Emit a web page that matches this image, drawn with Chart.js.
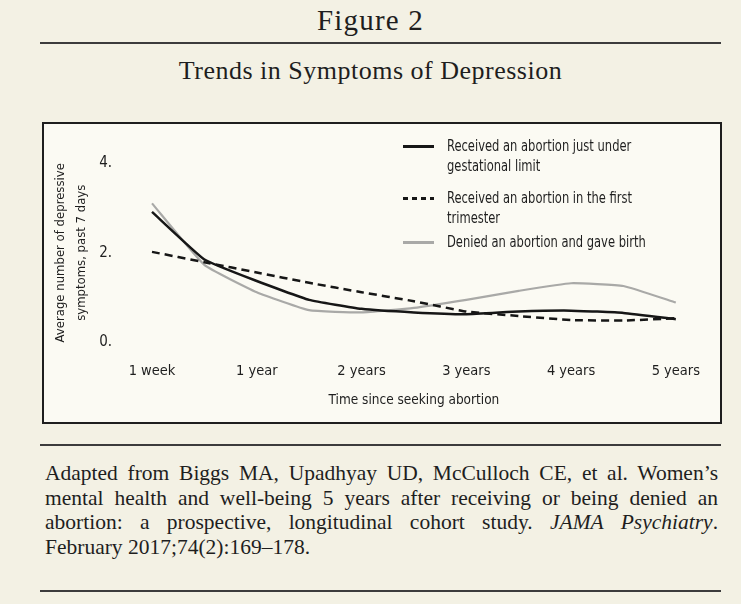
<!DOCTYPE html>
<html>
<head>
<meta charset="utf-8">
<script src="https://cdn.jsdelivr.net/npm/chart.js@4.4.1/dist/chart.umd.min.js"></script>
<style>
  body { margin: 0; width: 741px; height: 604px; position: relative; overflow: hidden;
         background: #f3f1e4; color: #1e1e1e; font-family: "Liberation Serif", "DejaVu Serif", serif; }
  .head { position: absolute; left: 0; width: 741px; text-align: center; line-height: 1; white-space: nowrap; }
  #figno { top: 6px; font-size: 29px; letter-spacing: 1.2px; }
  #title { top: 58px; font-size: 26px; letter-spacing: 0.5px; }
  .rule { position: absolute; left: 40px; width: 681px; height: 2px; background: #3c3c3c; }
  #box { position: absolute; left: 42px; top: 122px; width: 676px; height: 298px;
         border: 2px solid #1e1e1e; background: #fbfaf3; }
  #box canvas { position: absolute; left: 0; top: 0; }
  .cond { font-family: "Liberation Sans Narrow", "DejaVu Sans Condensed", sans-serif; font-stretch: condensed; }
  .item { position: absolute; left: 359px; width: 300px; font-size: 16px; line-height: 20px; }
  .item .swatch { position: absolute; left: 0; top: 9px; width: 31px; height: 2.5px; }
  .item .txt { position: absolute; left: 44px; top: 0; width: 262px;
               transform: scaleX(0.8); transform-origin: 0 0; }
  #caption { position: absolute; left: 45px; top: 461px; width: 673px; font-size: 21.5px; line-height: 24.5px; }
  #caption div { text-align: justify; text-align-last: justify; white-space: nowrap; }
  #caption div.last { text-align-last: left; }
</style>
</head>
<body>
<div class="head" id="figno">Figure 2</div>
<div class="rule" style="top:42px"></div>
<div class="head" id="title">Trends in Symptoms of Depression</div>

<div id="box">
  <canvas id="chart" width="676" height="298"></canvas>
  <div id="legend" class="cond"></div>
</div>

<div class="rule" style="top:444px"></div>
<div id="caption">
  <div>Adapted from Biggs MA, Upadhyay UD, McCulloch CE, et al. Women’s</div>
  <div>mental health and well-being 5 years after receiving or being denied an</div>
  <div>abortion: a prospective, longitudinal cohort study. <i>JAMA Psychiatry</i>.</div>
  <div class="last">February 2017;74(2):169–178.</div>
</div>
<div class="rule" style="top:590px"></div>

<script>
// time points every 6 months, only the yearly ones are labelled
const timeLabels = ['1 week', '6 months', '1 year', '18 months', '2 years', '30 months',
                    '3 years', '42 months', '4 years', '54 months', '5 years'];
const yTicks = [0, 2, 4];

const seriesNames = [
  'Received an abortion just under gestational limit',
  'Received an abortion in the first trimester',
  'Denied an abortion and gave birth'
];

// average number of depressive symptoms, past 7 days
const justUnderLimit = [2.91, 1.85, 1.37, 0.95, 0.75, 0.67, 0.63, 0.69, 0.71, 0.66, 0.52];
const firstTrimester = [2.02, 1.79, 1.56, 1.33, 1.12, 0.92, 0.69, 0.59, 0.50, 0.49, 0.54];
const deniedGaveBirth = [3.10, 1.73, 1.12, 0.72, 0.67, 0.77, 0.95, 1.15, 1.32, 1.26, 0.89];

const condFont = '"Liberation Sans Narrow", "DejaVu Sans Condensed", sans-serif';
const ink = '#1e1e1e';

const ctx = document.getElementById('chart').getContext('2d');
const chart = new Chart(ctx, {
  type: 'line',
  data: {
    labels: timeLabels,
    datasets: [{
      label: seriesNames[0],
      data: justUnderLimit,
      borderColor: '#161616',
      borderWidth: 2.5
    }, {
      label: seriesNames[1],
      data: firstTrimester,
      borderColor: '#161616',
      borderWidth: 2.5,
      borderDash: [8, 5]
    }, {
      label: seriesNames[2],
      data: deniedGaveBirth,
      borderColor: '#a9a9a7',
      borderWidth: 2.2
    }]
  },
  options: {
    responsive: false,
    animation: false,
    layout: { padding: { top: 39, right: 38, left: 0, bottom: 0 } },
    elements: {
      point: { radius: 0 },
      line: { tension: 0.12, borderCapStyle: 'butt', fill: false }
    },
    plugins: {
      legend: { display: false },
      tooltip: { enabled: false }
    },
    scales: {
      x: {
        grid: { display: false, drawTicks: false },
        border: { display: false },
        ticks: {
          autoSkip: false,
          maxRotation: 0,
          padding: 20,
          color: ink,
          font: { family: condFont, size: 14.5 },
          callback: function (v, i) { return i % 2 === 0 ? this.getLabelForValue(v) : ''; }
        },
        title: {
          display: true,
          text: 'Time since seeking abortion',
          color: ink,
          font: { family: condFont, size: 13.5 },
          padding: { top: 0, bottom: 13 }
        },
        afterFit: s => { s.height = 79.5; }
      },
      y: {
        min: 0,
        max: 4,
        grid: { display: false, drawTicks: false },
        border: { display: false },
        afterBuildTicks: s => { s.ticks = yTicks.map(v => ({ value: v })); },
        ticks: {
          padding: 40,
          color: ink,
          font: { family: condFont, size: 15 },
          callback: v => v + '.'
        },
        title: {
          display: true,
          text: ['Average number of depressive', 'symptoms, past 7 days'],
          color: ink,
          font: { family: condFont, size: 13, lineHeight: 1.55 },
          padding: { top: 7, bottom: 0 }
        },
        // fixed axis width; drop the label padding so the top of the plot stays at 4
        afterFit: s => { s.width = 108; s.paddingTop = 0; s.paddingBottom = 0; }
      }
    }
  }
});

// legend with wrapped labels, built from the datasets
const legendTops = [12, 64, 108];
const legend = document.getElementById('legend');
chart.data.datasets.forEach((ds, i) => {
  const item = document.createElement('div');
  item.className = 'item';
  item.style.top = legendTops[i] + 'px';
  const sw = document.createElement('div');
  sw.className = 'swatch';
  if (ds.borderDash) {
    sw.style.background = `repeating-linear-gradient(90deg, ${ds.borderColor} 0 5px, transparent 5px 9px)`;
  } else {
    sw.style.background = ds.borderColor;
  }
  const txt = document.createElement('div');
  txt.className = 'txt';
  txt.style.color = ink;
  txt.textContent = ds.label;
  item.appendChild(sw);
  item.appendChild(txt);
  legend.appendChild(item);
});
</script>
</body>
</html>
